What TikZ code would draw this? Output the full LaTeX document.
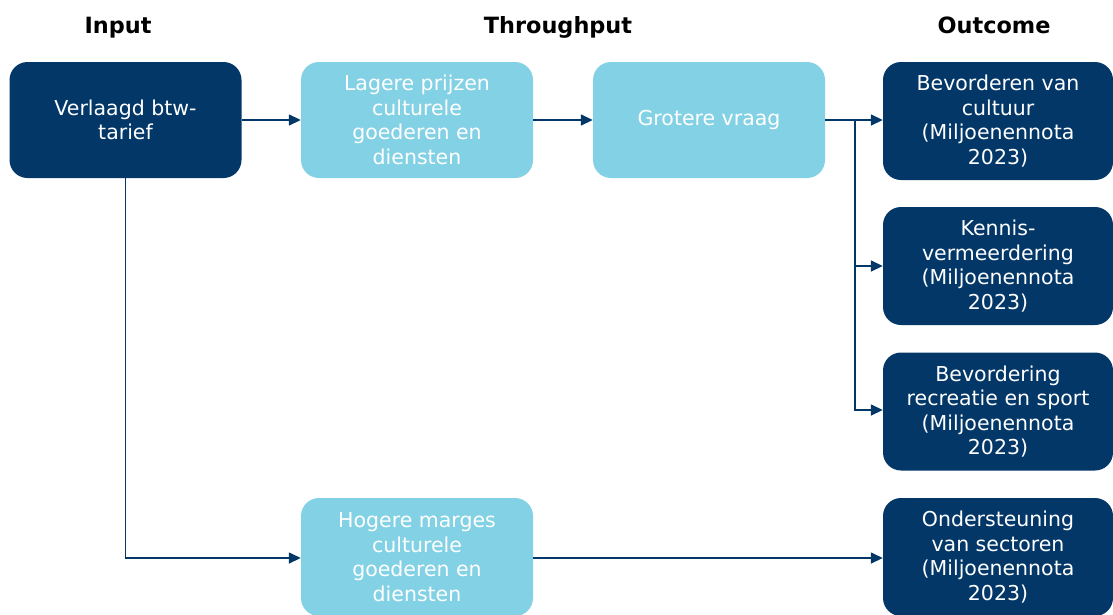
\documentclass[tikz,border=0pt]{standalone}
\usepackage{fontspec}
\setmainfont{DejaVu Sans}
\usetikzlibrary{arrows.meta}
\definecolor{navy}{RGB}{2,55,104}
\definecolor{lightblue}{RGB}{131,209,228}
\tikzset{
  boxbase/.style={rounded corners=18pt, minimum width=232pt, minimum height=116pt, align=center, text=white,
    font=\fontsize{20.5}{24.5}\selectfont, inner sep=2pt},
  darkbox/.style={boxbase, fill=navy},
  lightbox/.style={boxbase, fill=lightblue},
  header/.style={font=\fontsize{22.4}{26}\selectfont\bfseries, text=black, anchor=base},
  conn/.style={draw=navy, line width=1.5pt, -{Triangle[length=12pt,width=11pt]}}
}
\begin{document}
\begin{tikzpicture}[x=1pt,y=-1pt]
\useasboundingbox (0,0) rectangle (1113,614);
\node[header] (h1) at (118,33) {Input};
\node[header] (h2) at (558,33) {Throughput};
\node[header] (h3) at (994,33) {Outcome};

\node[darkbox] (inp) at (125.5,120) {Verlaagd btw-\\tarief};
\node[lightbox] (lag) at (417,120) {Lagere prijzen\\culturele\\goederen en\\diensten};
\node[lightbox] (gro) at (709,120) {Grotere vraag};
\node[lightbox, minimum height=118pt] (hog) at (417,557) {Hogere marges\\culturele\\goederen en\\diensten};

\node[darkbox, minimum width=230pt, minimum height=118pt] (o1) at (998,121) {Bevorderen van\\cultuur\\(Miljoenennota\\2023)};
\node[darkbox, minimum width=230pt, minimum height=118pt] (o2) at (998,266) {Kennis-\\vermeerdering\\(Miljoenennota\\2023)};
\node[darkbox, minimum width=230pt, minimum height=118pt] (o3) at (998,411.5) {Bevordering\\recreatie en sport\\(Miljoenennota\\2023)};
\node[darkbox, minimum width=230pt, minimum height=118pt] (o4) at (998,557) {Ondersteuning\\van sectoren\\(Miljoenennota\\2023)};

\coordinate (br) at (855,120);

\draw[conn] (inp.east |- 0,120) -- (lag.west |- 0,120);
\draw[conn] (lag.east |- 0,120) -- (gro.west |- 0,120);
\draw[conn] (gro.east |- 0,120) -- (o1.west |- 0,120);
\draw[conn] (br) |- (o2.west);
\draw[conn] (br) |- (o3.west |- 0,410);
\draw[conn] (inp.south) |- (hog.west |- 0,558);
\draw[conn] (hog.east |- 0,558) -- (o4.west |- 0,558);
\end{tikzpicture}
\end{document}
